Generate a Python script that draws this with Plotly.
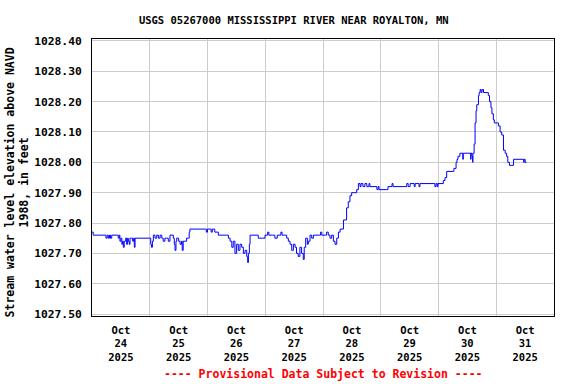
import pandas as pd
import plotly.graph_objects as go

# hours since 2025-10-24 00:00 and gage height (ft above NAVD 1988)
hours = [0.0, 0.5, 5.8, 6.3, 6.8, 7.3, 7.7, 8.2, 10.9, 11.3, 11.6, 12.0, 12.4, 12.7, 13.0, 13.4, 13.7, 14.0,
         14.4, 14.8, 15.1, 15.5, 15.8, 16.5, 16.9, 17.3, 17.6, 17.9,
         24.1, 24.4, 24.7, 25.1, 25.5, 26.2, 26.9, 27.6, 28.3, 29.0, 29.6, 30.3, 31.0, 31.7, 32.4, 33.8,
         34.2, 34.5, 34.9, 35.2, 36.0, 36.6, 37.2, 37.5, 37.9, 38.6, 39.3, 40.0, 40.4, 40.7,
         47.0, 47.5, 48.0, 49.0, 49.5, 50.0, 51.0, 52.5,
         56.0, 56.7, 57.4, 58.1, 58.7, 59.4, 60.1, 60.8, 61.5, 62.2, 62.9, 63.6, 64.3, 64.7, 65.0, 65.4,
         65.7, 69.1, 71.0, 71.9, 73.0, 73.5, 75.0, 76.0, 77.0, 78.5, 79.0,
         80.9, 81.6, 82.3, 83.0, 83.7, 84.4, 85.0, 85.7, 86.4, 87.1, 87.8, 88.2, 88.8, 89.5, 89.9, 90.6,
         91.3, 92.0, 94.0, 95.0, 95.5, 97.0, 97.5, 98.2, 98.9, 99.6, 100.3, 101.0, 101.7, 102.4,
         103.1, 104.5, 105.8, 106.5, 107.2, 107.9, 109.0, 110.0, 110.7, 111.4, 111.8, 112.6, 113.4,
         114.2, 115.1, 115.5, 118.4, 118.9, 119.3, 122.5, 123.0, 124.7, 125.1, 130.8, 131.4, 132.2,
         133.9, 134.3, 135.9, 136.3, 142.5, 143.0, 143.5, 143.8, 146.0, 146.7, 147.4, 150.2, 150.4,
         151.3, 151.7, 152.1, 152.9, 154.1, 154.3, 157.1, 157.4, 157.5, 157.9, 158.2, 158.3, 158.8,
         159.2, 159.6, 159.9, 160.6, 160.9, 161.3, 161.7, 162.1, 162.7, 164.2, 164.7, 165.2, 165.8,
         166.2, 166.8, 167.2, 168.4, 168.9, 169.6, 170.3, 171.0, 171.7, 172.3, 172.8, 173.5, 174.5,
         175.2, 179.2, 179.4, 179.6, 180.0, 180.6]
values = [1027.77, 1027.76, 1027.75, 1027.76, 1027.75, 1027.76, 1027.75, 1027.76, 1027.75, 1027.76,
          1027.74, 1027.75, 1027.73, 1027.74, 1027.72, 1027.74, 1027.74, 1027.75, 1027.73, 1027.75,
          1027.74, 1027.73, 1027.75, 1027.75, 1027.74, 1027.75, 1027.72, 1027.75,
          1027.75, 1027.73, 1027.72, 1027.74, 1027.76, 1027.75, 1027.76, 1027.75, 1027.76, 1027.75,
          1027.74, 1027.75, 1027.75, 1027.74, 1027.76, 1027.75, 1027.73, 1027.71, 1027.74, 1027.75,
          1027.74, 1027.73, 1027.74, 1027.71, 1027.74, 1027.74, 1027.75, 1027.75, 1027.77, 1027.78,
          1027.78, 1027.77, 1027.78, 1027.78, 1027.77, 1027.78, 1027.77, 1027.76,
          1027.76, 1027.75, 1027.74, 1027.72, 1027.74, 1027.70, 1027.73, 1027.71, 1027.73, 1027.72,
          1027.70, 1027.71, 1027.69, 1027.67, 1027.70, 1027.73, 1027.76, 1027.75, 1027.75, 1027.76,
          1027.77, 1027.76, 1027.76, 1027.75, 1027.76, 1027.77, 1027.76,
          1027.75, 1027.74, 1027.73, 1027.71, 1027.73, 1027.72, 1027.70, 1027.69, 1027.72, 1027.70,
          1027.68, 1027.72, 1027.75, 1027.73, 1027.74, 1027.76, 1027.75, 1027.76, 1027.76, 1027.77,
          1027.76, 1027.76, 1027.77, 1027.76, 1027.75, 1027.76, 1027.74, 1027.73, 1027.75, 1027.77,
          1027.78, 1027.81, 1027.85, 1027.87, 1027.89, 1027.90, 1027.90, 1027.91, 1027.93, 1027.92,
          1027.93, 1027.92, 1027.93, 1027.92, 1027.93, 1027.92, 1027.91, 1027.92, 1027.91, 1027.91,
          1027.92, 1027.93, 1027.92, 1027.93, 1027.92, 1027.93, 1027.92, 1027.93, 1027.92, 1027.93,
          1027.92, 1027.93, 1027.92, 1027.93, 1027.94, 1027.95, 1027.97, 1027.97, 1027.98,
          1028.00, 1028.01, 1028.02, 1028.03, 1028.01, 1028.03, 1028.03, 1028.01, 1028.03, 1028.02,
          1028.00, 1028.03, 1028.06, 1028.13, 1028.17, 1028.19, 1028.22, 1028.23, 1028.24, 1028.23,
          1028.24, 1028.23, 1028.23, 1028.22, 1028.20, 1028.18, 1028.16, 1028.14, 1028.13, 1028.13,
          1028.12, 1028.10, 1028.09, 1028.04, 1028.03, 1028.02, 1028.00, 1027.99, 1027.99,
          1028.01, 1028.01, 1028.00, 1028.01, 1028.00, 1028.00]

month_labels = ["Oct"] * 8
day_labels = ["24", "25", "26", "27", "28", "29", "30", "31"]
year_labels = ["2025"] * 8
y_ticks = [1027.50, 1027.60, 1027.70, 1027.80, 1027.90, 1028.00, 1028.10, 1028.20, 1028.30, 1028.40]

base = pd.Timestamp("2025-10-24 00:00")
times = [base + pd.Timedelta(hours=h) for h in hours]
midnights = [base + pd.Timedelta(days=d) for d in range(0, 9)]
noons = [base + pd.Timedelta(days=d, hours=12) for d in range(8)]

FONT = "DejaVu Sans Mono"

fig = go.Figure()
fig.add_trace(go.Scatter(x=times, y=values, mode="lines", line=dict(color="#0000ff", width=1, shape="hv"),
                         hoverinfo="skip", showlegend=False))

x_ticktext = ["<b>%s</b><br><b>%s</b><br><b>%s</b>" % (m, d, y)
              for m, d, y in zip(month_labels, day_labels, year_labels)]

fig.update_layout(
    width=576, height=384,
    margin=dict(l=92, r=22, t=39, b=68),
    paper_bgcolor="white", plot_bgcolor="white",
    title=dict(text="<b>USGS 05267000 MISSISSIPPI RIVER NEAR ROYALTON, MN</b>",
               x=0.51, xanchor="center", y=0.947, yanchor="middle",
               font=dict(family=FONT, size=10.5, color="black")),
    xaxis=dict(range=[midnights[0], midnights[-1]], tickmode="array", tickvals=noons, ticktext=x_ticktext,
               showgrid=False, ticks="", tickfont=dict(family=FONT, size=10.5, color="black"),
               ticklabelstandoff=4, zeroline=False, automargin=False,
               showline=True, linecolor="black", linewidth=1, mirror=True,
               minor=dict(tickvals=midnights[1:-1], showgrid=True, gridcolor="#cccccc",
                          gridwidth=1, ticks="")),
    yaxis=dict(range=[1027.4935, 1028.4065], tickmode="array", tickvals=y_ticks,
               ticktext=["<b>%.2f</b>" % v for v in y_ticks],
               showgrid=True, gridcolor="#cccccc", gridwidth=1, ticks="",
               tickfont=dict(family=FONT, size=11.3, color="black"), ticklabelstandoff=7,
               showline=True, linecolor="black", linewidth=1, mirror=True, zeroline=False,
               automargin=False),
)
fig.add_annotation(text="<b>Stream water level elevation above NAVD<br>1988, in feet</b>",
                   xref="paper", yref="paper", x=-0.1613, y=0.484, xanchor="center", yanchor="middle",
                   textangle=-90, showarrow=False, font=dict(family=FONT, size=11.5, color="black"))
fig.add_annotation(text="<b>---- Provisional Data Subject to Revision ----</b>", xref="paper", yref="paper",
                   x=0.5, y=-0.209, xanchor="center", yanchor="middle", showarrow=False,
                   font=dict(family=FONT, size=11.5, color="red"))

fig.write_html("out.html", config={"displayModeBar": False},
               post_script="document.body.style.margin='0';")
